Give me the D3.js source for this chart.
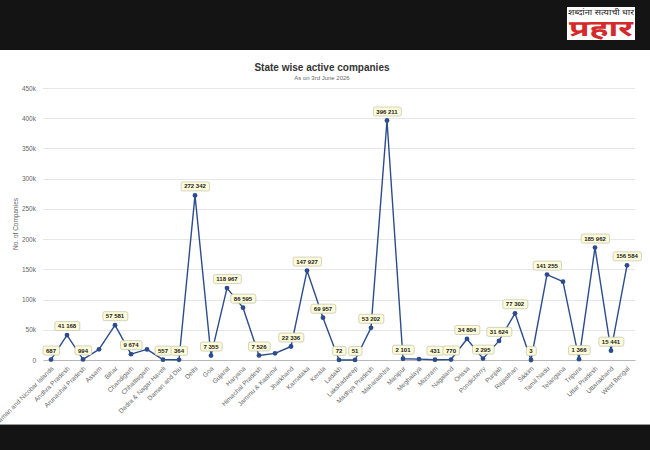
<!DOCTYPE html>
<html>
<head>
<meta charset="utf-8">
<script src="https://cdn.jsdelivr.net/npm/d3@7"></script>
<style>
  html, body { margin: 0; padding: 0; background: #141414; }
  #page { position: relative; width: 650px; height: 450px; overflow: hidden; }
  svg { display: block; font-family: "Liberation Sans", Arial, sans-serif; }
</style>
</head>
<body>
<div id="page"></div>
<script>
// chart data
const states = [
  "Andaman and Nicobar Islands", "Andhra Pradesh", "Arunachal Pradesh", "Assam", "Bihar",
  "Chandigarh", "Chhattisgarh", "Dadra & Nagar Haveli", "Daman and Diu", "Delhi",
  "Goa", "Gujarat", "Haryana", "Himachal Pradesh", "Jammu & Kashmir",
  "Jharkhand", "Karnataka", "Kerala", "Ladakh", "Lakshadweep",
  "Madhya Pradesh", "Maharashtra", "Manipur", "Meghalaya", "Mizoram",
  "Nagaland", "Orissa", "Pondicherry", "Punjab", "Rajasthan",
  "Sikkim", "Tamil Nadu", "Telangana", "Tripura", "Uttar Pradesh",
  "Uttarakhand", "West Bengal"
];
const activeCompanies = [
  687, 41168, 994, 17700, 57581,
  9674, 17500, 557, 364, 272342,
  7355, 118967, 86595, 7526, 11000,
  22336, 147927, 69957, 72, 51,
  53202, 396211, 2101, 1500, 431,
  770, 34804, 2295, 31624, 77302,
  3, 141255, 129500, 1366, 185962,
  15441, 156584
];
// labels the original chart dropped because of overlap
const hiddenLabels = ["Assam", "Chhattisgarh", "Jammu & Kashmir", "Meghalaya", "Telangana"];
const yTicks = [0, 50000, 100000, 150000, 200000, 250000, 300000, 350000, 400000, 450000];

const titleText = "State wise active companies";
const subtitleText = "As on 3rd June 2026";
const yTitle = "No. of Companies";

const W = 650, H = 450;
const margin = { top: 88, right: 15, bottom: 90, left: 43 };
const innerW = W - margin.left - margin.right;
const innerH = H - margin.top - margin.bottom;

const svg = d3.select("#page").append("svg")
    .attr("width", W)
    .attr("height", H);

// page frame: dark bars top/bottom, white chart card
svg.append("rect").attr("width", W).attr("height", H).attr("fill", "#141414");
svg.append("rect").attr("x", 0).attr("y", 50).attr("width", W).attr("height", 374).attr("fill", "#ffffff");
svg.append("line").attr("x1", 0).attr("x2", W).attr("y1", 424.5).attr("y2", 424.5)
    .attr("stroke", "#9a9a9a").attr("stroke-width", 1);

// logo
const logo = svg.append("g").attr("transform", "translate(567,7)");
logo.append("rect").attr("width", 68).attr("height", 33).attr("fill", "#ffffff");
logo.append("text")
    .attr("x", 1).attr("y", 8)
    .attr("textLength", 66).attr("lengthAdjust", "spacingAndGlyphs")
    .style("font-family", "'Noto Sans Devanagari', 'Noto Sans', sans-serif")
    .style("font-size", "7.5px")
    .style("fill", "#222")
    .text("शब्दांना सत्याची धार");
logo.append("text")
    .attr("x", 2).attr("y", 29)
    .attr("textLength", 64).attr("lengthAdjust", "spacingAndGlyphs")
    .style("font-family", "'Noto Sans Devanagari', 'Noto Sans', sans-serif")
    .style("font-size", "22px")
    .style("font-weight", "bold")
    .style("fill", "#d42a2a")
    .text("प्रहार");

// titles
svg.append("text")
    .attr("x", 322).attr("y", 71)
    .attr("text-anchor", "middle")
    .style("font-size", "10px")
    .style("font-weight", "bold")
    .style("fill", "#333")
    .text(titleText);
svg.append("text")
    .attr("x", 322).attr("y", 80)
    .attr("text-anchor", "middle")
    .style("font-size", "6px")
    .style("fill", "#666")
    .text(subtitleText);

const g = svg.append("g").attr("transform", `translate(${margin.left},${margin.top})`);

// scales
const x = d3.scaleBand().domain(states).range([0, innerW]);
const y = d3.scaleLinear().domain([0, 450000]).range([innerH, 0]);
const cx = d => x(d) + x.bandwidth() / 2;

// grid
g.append("g").selectAll("line")
    .data(yTicks.slice(1))
    .join("line")
    .attr("x1", 0).attr("x2", innerW)
    .attr("y1", d => Math.round(y(d)) + 0.5).attr("y2", d => Math.round(y(d)) + 0.5)
    .attr("stroke", "#e6e6e6");

// y axis
const yAxis = g.append("g")
    .call(d3.axisLeft(y).tickValues(yTicks).tickSize(0).tickPadding(7)
        .tickFormat(d => d === 0 ? "0" : (d / 1000) + "k"));
yAxis.select(".domain").remove();
yAxis.selectAll("text").style("font-size", "6.5px").style("fill", "#666")
    .style("font-family", "'Liberation Sans', Arial, sans-serif");

svg.append("text")
    .attr("transform", `translate(18,${margin.top + innerH / 2}) rotate(-90)`)
    .attr("text-anchor", "middle")
    .style("font-size", "6.5px")
    .style("fill", "#666")
    .text(yTitle);

// x axis
const xAxis = g.append("g")
    .attr("transform", `translate(0,${innerH})`)
    .call(d3.axisBottom(x).tickSize(0).tickPadding(0));
xAxis.select(".domain").attr("stroke", "#b8b8b8").attr("stroke-width", 1.2);
xAxis.selectAll("text")
    .style("font-size", "6.5px")
    .style("fill", "#666")
    .style("font-family", "'Liberation Sans', Arial, sans-serif")
    .style("text-anchor", "end")
    .attr("dy", 0)
    .attr("y", 0)
    .attr("transform", "translate(3,9) rotate(-45)");

// line
const line = d3.line()
    .x((d, i) => cx(states[i]))
    .y(d => y(d));

g.append("path")
    .datum(activeCompanies)
    .attr("fill", "none")
    .attr("stroke", "#2c4c8c")
    .attr("stroke-width", 1.4)
    .attr("stroke-linejoin", "round")
    .attr("d", line);

g.append("g").selectAll("circle")
    .data(activeCompanies)
    .join("circle")
    .attr("cx", (d, i) => cx(states[i]))
    .attr("cy", d => y(d))
    .attr("r", 2.4)
    .attr("fill", "#2c4c8c");

// data labels
const fmt = v => d3.format(",")(v).replace(/,/g, " ");
const labelData = activeCompanies
    .map((v, i) => ({ state: states[i], value: v }))
    .filter(d => !hiddenLabels.includes(d.state));

const labels = g.append("g").selectAll("g")
    .data(labelData)
    .join("g")
    .attr("transform", d => `translate(${cx(d.state)},${y(d.value) - 9})`);

labels.append("text")
    .attr("text-anchor", "middle")
    .attr("dy", "0.35em")
    .style("font-size", "6px")
    .style("font-weight", "bold")
    .style("fill", "#222")
    .text(d => fmt(d.value))
    .each(function () {
        const bb = this.getBBox();
        d3.select(this.parentNode).insert("rect", "text")
            .attr("x", bb.x - 3).attr("y", -4.5)
            .attr("width", bb.width + 6).attr("height", 9)
            .attr("rx", 2)
            .attr("fill", "#fdfbd8")
            .attr("stroke", "#c8c8b0")
            .attr("stroke-width", 0.8);
    });
</script>
</body>
</html>
